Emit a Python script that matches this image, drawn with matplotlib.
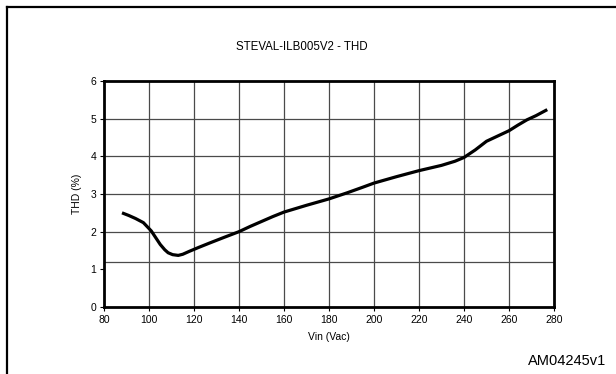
import matplotlib
matplotlib.use("Agg")
import matplotlib.pyplot as plt
from matplotlib.lines import Line2D

vin = [88, 91, 94, 97.5, 101, 103, 105, 107, 108.5, 110.5, 113, 115, 118, 122, 127,
       133, 140, 145, 150, 155, 160, 170, 180, 188, 195, 200, 210, 220, 230, 236,
       240, 245, 250, 255, 260, 264, 268, 272, 277]
thd = [2.50, 2.43, 2.35, 2.24, 2.02, 1.84, 1.66, 1.52, 1.44, 1.39, 1.37, 1.40, 1.48,
       1.58, 1.70, 1.84, 2.00, 2.14, 2.27, 2.40, 2.52, 2.70, 2.87, 3.03, 3.18, 3.29,
       3.46, 3.62, 3.76, 3.87, 3.97, 4.17, 4.40, 4.54, 4.68, 4.83, 4.97, 5.08, 5.24]
xticks = [80, 100, 120, 140, 160, 180, 200, 220, 240, 260, 280]
yticks = [0, 1, 2, 3, 4, 5, 6]
hgrid = [1.2, 2, 3, 4, 5]

plt.rcParams['font.family'] = ['Liberation Sans', 'DejaVu Sans']

fig = plt.figure(figsize=(6.16, 3.74), dpi=100)
W, H = 616, 374
ax = fig.add_axes([104 / W, 1 - 307 / H, 450 / W, 226 / H])

ax.plot(vin, thd, color='black', lw=2.3, solid_capstyle='butt', solid_joinstyle='round', zorder=3)

ax.set_xlim(80, 280)
ax.set_ylim(0, 6)
ax.set_xticks(xticks)
ax.set_yticks(yticks)
for x in xticks[1:-1]:
    ax.axvline(x, color='#4a4a4a', lw=0.9, zorder=1)
for y in hgrid:
    ax.axhline(y, color='#4a4a4a', lw=0.9, zorder=1)

for s in ax.spines.values():
    s.set_linewidth(2.0)
    s.set_color('black')
ax.tick_params(direction='out', length=3, width=0.8, labelsize=7.5, pad=2.5)

ax.set_xlabel('Vin (Vac)', fontsize=7.5, labelpad=5)
ax.set_ylabel('THD (%)', fontsize=7.5, labelpad=6)

fig.text(0.49, 1 - 47 / H, 'STEVAL-ILB005V2 - THD', ha='center', va='center', fontsize=8.3)
fig.text(606 / W, 1 - 361 / H, 'AM04245v1', ha='right', va='center', fontsize=10.5)

# frame lines (top and left border)
fig.add_artist(Line2D([7 / W, 1], [1 - 7 / H, 1 - 7 / H], color='black', lw=1.6, transform=fig.transFigure))
fig.add_artist(Line2D([7 / W, 7 / W], [0, 1 - 7 / H], color='black', lw=1.6, transform=fig.transFigure))

fig.savefig('out.png', dpi=100)
